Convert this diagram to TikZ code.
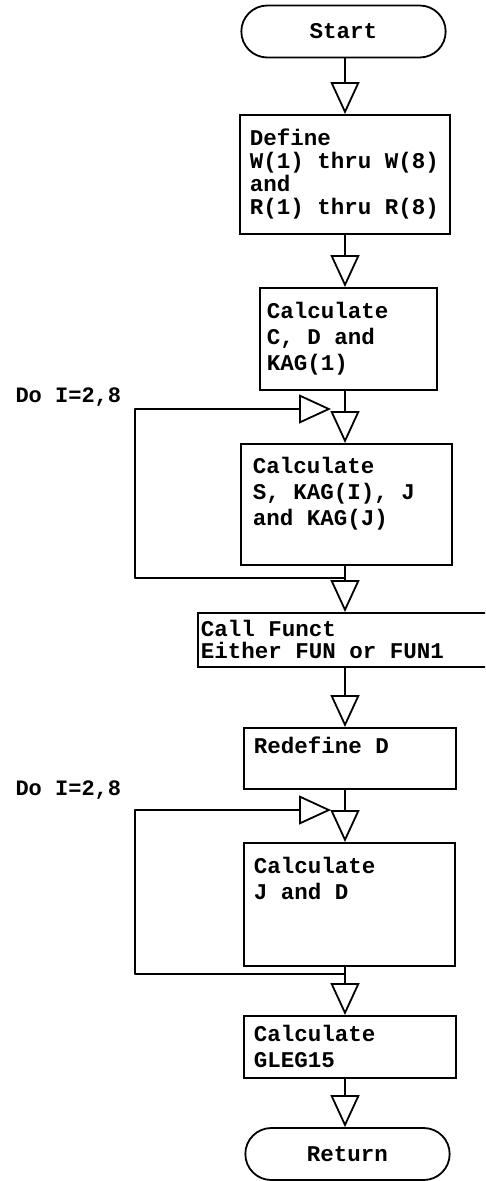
\documentclass[tikz,border=0pt]{standalone}
\usepackage{fontspec}
\setmonofont{Liberation Mono}
\usetikzlibrary{positioning, calc, shapes.misc, arrows.meta}

\tikzset{
  stepbox/.style={draw, line width=1.8pt, anchor=north west,
    inner xsep=10pt, inner ysep=0pt,
    font=\ttfamily\bfseries\fontsize{22.5}{26}\selectfont,
    execute at begin node={\spaceskip=0pt\xspaceskip=0pt\relax}},
  termbox/.style={draw, line width=1.8pt, rounded rectangle,
    minimum width=211pt, minimum height=52pt,
    font=\ttfamily\bfseries\fontsize{22.5}{26}\selectfont},
  flow/.style={line width=1.8pt, line join=round,
    -{Triangle[open, length=32pt, width=29pt]}},
  dolabel/.style={anchor=west, font=\ttfamily\bfseries\fontsize{22}{26}\selectfont}
}

\begin{document}
\begin{tikzpicture}[x=1pt, y=-1pt]
  \clip (0,0) rectangle (485,1181);
  \coordinate (axis) at (345,0);

  % Terminals
  \node[termbox] (start) at (343.5,31.5) {Start};
  \node[termbox] (ret) at (347.5,1154) {Return};

  % Process boxes
  \node[stepbox, text width=190pt, minimum height=119pt,
    font=\ttfamily\bfseries\fontsize{22.5}{23}\selectfont] (define) at (239,114)
    {Define\\W(1) thru W(8)\\and\\R(1) thru R(8)};
  \node[stepbox, inner xsep=7pt, text width=163pt, minimum height=102pt] (calcC) at (259,287)
    {Calculate\\C, D and\\KAG(1)};
  \node[stepbox, inner xsep=12pt, text width=187pt, minimum height=121pt] (calcS) at (240,443)
    {Calculate\\S, KAG(I), J\\and KAG(J)\\~};
  \node[stepbox, inner xsep=3pt, text width=304pt, minimum height=54pt,
    font=\ttfamily\bfseries\fontsize{22.5}{22}\selectfont] (call) at (197,612)
    {Call Funct\\Either FUN or FUN1};
  \node[stepbox, text width=192pt, minimum height=61pt] (redef) at (243,727)
    {Redefine D\\~};
  \node[stepbox, text width=191pt, minimum height=123pt] (calcJ) at (243,842)
    {Calculate\\J and D\\~\\~};
  \node[stepbox, text width=192pt, minimum height=62pt] (gleg) at (243,1015)
    {Calculate\\GLEG15};

  % Main flow
  \foreach \a/\b in {start/define, define/calcC, calcC/calcS, calcS/call,
                     call/redef, redef/calcJ, calcJ/gleg, gleg/ret} {
    \draw[flow] (\a.south -| axis) -- (\b.north -| axis);
  }

  % Do loops
  \node[dolabel] (doA) at (12,397) {Do I=2,8};
  \coordinate (loopAout) at ($(calcS.south -| axis)+(0,12)$);
  \coordinate (loopAin) at (331,409);
  \draw[flow] (loopAout) -- ++(-210,0) |- (loopAin);

  \node[dolabel] (doB) at (12,790) {Do I=2,8};
  \coordinate (loopBout) at ($(calcJ.south -| axis)+(0,7)$);
  \coordinate (loopBin) at (331,810);
  \draw[flow] (loopBout) -- ++(-210,0) |- (loopBin);
\end{tikzpicture}
\end{document}
